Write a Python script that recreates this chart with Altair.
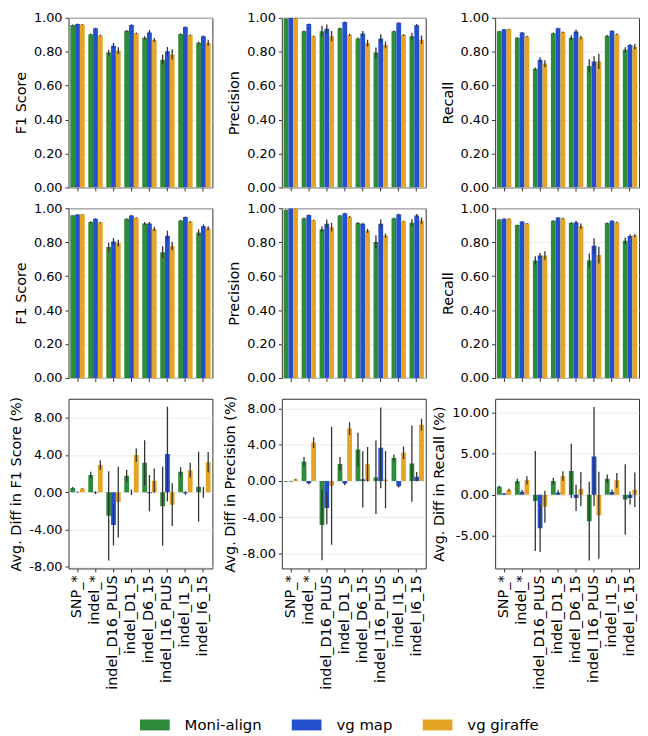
import altair as alt
import pandas as pd

CATEGORIES = ["SNP_*", "indel_*", "indel_D16_PLUS", "indel_D1_5",
              "indel_D6_15", "indel_I16_PLUS", "indel_I1_5", "indel_I6_15"]
METHODS = ["Moni-align", "vg map", "vg giraffe"]
COLORS = ["#2E8B3A", "#2450D0", "#E5A423"]

# ---- Row 1 ----
r1_f1_moni = [0.958, 0.903, 0.795, 0.923, 0.882, 0.753, 0.905, 0.853]
r1_f1_map = [0.963, 0.938, 0.836, 0.958, 0.913, 0.803, 0.946, 0.892]
r1_f1_gir = [0.961, 0.896, 0.807, 0.909, 0.869, 0.784, 0.898, 0.853]
r1_f1_moni_e = [0.003, 0.004, 0.015, 0.005, 0.010, 0.030, 0.004, 0.008]
r1_f1_map_e = [0.003, 0.003, 0.015, 0.004, 0.015, 0.025, 0.003, 0.004]
r1_f1_gir_e = [0.003, 0.004, 0.020, 0.005, 0.012, 0.030, 0.004, 0.018]

r1_pr_moni = [0.994, 0.921, 0.921, 0.938, 0.878, 0.795, 0.921, 0.892]
r1_pr_map = [0.999, 0.963, 0.936, 0.975, 0.907, 0.878, 0.971, 0.956]
r1_pr_gir = [0.998, 0.892, 0.892, 0.900, 0.851, 0.840, 0.898, 0.871]
r1_pr_moni_e = [0.002, 0.004, 0.030, 0.005, 0.006, 0.030, 0.004, 0.020]
r1_pr_map_e = [0.001, 0.003, 0.025, 0.003, 0.015, 0.025, 0.003, 0.008]
r1_pr_gir_e = [0.002, 0.004, 0.030, 0.006, 0.020, 0.020, 0.005, 0.025]

r1_re_moni = [0.921, 0.882, 0.699, 0.909, 0.882, 0.716, 0.894, 0.811]
r1_re_map = [0.932, 0.913, 0.753, 0.938, 0.919, 0.743, 0.923, 0.840]
r1_re_gir = [0.932, 0.890, 0.730, 0.915, 0.884, 0.743, 0.903, 0.830]
r1_re_moni_e = [0.003, 0.004, 0.008, 0.005, 0.015, 0.040, 0.004, 0.015]
r1_re_map_e = [0.002, 0.003, 0.015, 0.003, 0.012, 0.030, 0.003, 0.005]
r1_re_gir_e = [0.003, 0.004, 0.020, 0.004, 0.010, 0.045, 0.005, 0.015]

# ---- Row 2 ----
r2_f1_moni = [0.959, 0.919, 0.772, 0.938, 0.911, 0.741, 0.928, 0.857]
r2_f1_map = [0.963, 0.938, 0.805, 0.957, 0.911, 0.838, 0.948, 0.894]
r2_f1_gir = [0.965, 0.917, 0.795, 0.944, 0.878, 0.778, 0.921, 0.882]
r2_f1_moni_e = [0.002, 0.004, 0.025, 0.003, 0.008, 0.035, 0.003, 0.020]
r2_f1_map_e = [0.002, 0.003, 0.020, 0.003, 0.008, 0.030, 0.003, 0.010]
r2_f1_gir_e = [0.002, 0.003, 0.020, 0.003, 0.012, 0.025, 0.004, 0.012]

r2_pr_moni = [0.990, 0.942, 0.876, 0.957, 0.913, 0.801, 0.942, 0.915]
r2_pr_map = [0.999, 0.961, 0.909, 0.971, 0.909, 0.909, 0.965, 0.957]
r2_pr_gir = [0.999, 0.930, 0.888, 0.950, 0.868, 0.839, 0.923, 0.926]
r2_pr_moni_e = [0.002, 0.004, 0.018, 0.004, 0.006, 0.040, 0.004, 0.020]
r2_pr_map_e = [0.001, 0.003, 0.025, 0.003, 0.006, 0.025, 0.003, 0.010]
r2_pr_gir_e = [0.001, 0.003, 0.025, 0.004, 0.012, 0.012, 0.003, 0.020]

r2_re_moni = [0.934, 0.901, 0.693, 0.926, 0.913, 0.693, 0.913, 0.808]
r2_re_map = [0.938, 0.922, 0.722, 0.946, 0.918, 0.779, 0.926, 0.837]
r2_re_gir = [0.938, 0.911, 0.722, 0.940, 0.895, 0.724, 0.917, 0.839]
r2_re_moni_e = [0.003, 0.003, 0.025, 0.004, 0.006, 0.040, 0.004, 0.020]
r2_re_map_e = [0.003, 0.003, 0.015, 0.003, 0.008, 0.045, 0.003, 0.010]
r2_re_gir_e = [0.003, 0.003, 0.025, 0.004, 0.015, 0.050, 0.004, 0.010]

# ---- Row 3 (differences, %) ----
r3_f1_moni = [0.46, 1.84, -2.54, 1.77, 3.18, -1.52, 2.19, 0.60]
r3_f1_map = [0.02, -0.05, -3.53, 0.00, -0.10, 4.10, -0.10, 0.00]
r3_f1_gir = [0.39, 2.93, -1.06, 3.99, 1.24, -1.34, 2.37, 3.22]
r3_f1_moni_e = [0.10, 0.35, 4.80, 0.65, 2.40, 4.25, 0.50, 3.75]
r3_f1_map_e = [0.05, 0.15, 2.20, 0.30, 1.95, 5.10, 0.20, 0.60]
r3_f1_gir_e = [0.05, 0.50, 3.80, 0.70, 1.30, 2.30, 0.80, 1.10]

r3_pr_moni = [-0.07, 2.13, -4.86, 1.87, 3.46, 0.40, 2.52, 1.91]
r3_pr_map = [-0.04, -0.25, -2.99, -0.29, 0.18, 3.64, -0.58, 0.47]
r3_pr_gir = [0.18, 4.22, -0.54, 5.77, 1.84, 0.14, 3.10, 6.20]
r3_pr_moni_e = [0.05, 0.50, 3.90, 0.75, 1.85, 4.05, 0.40, 4.20]
r3_pr_map_e = [0.05, 0.15, 1.80, 0.20, 3.10, 4.45, 0.15, 0.50]
r3_pr_gir_e = [0.05, 0.60, 6.50, 0.70, 1.90, 3.15, 0.70, 0.65]

r3_re_moni = [0.96, 1.63, -0.76, 1.67, 2.90, -3.23, 1.95, -0.60]
r3_re_map = [0.16, 0.36, -4.10, 0.28, -0.40, 4.66, 0.32, -0.40]
r3_re_gir = [0.56, 1.75, -1.47, 2.27, 0.68, -2.51, 1.75, 0.60]
r3_re_moni_e = [0.12, 0.30, 6.10, 0.40, 3.30, 4.80, 0.50, 4.30]
r3_re_map_e = [0.05, 0.20, 2.90, 0.30, 1.60, 6.05, 0.30, 0.80]
r3_re_gir_e = [0.15, 0.50, 1.95, 0.60, 2.10, 5.30, 0.90, 2.10]

TOP_TICKS = [0.0, 0.2, 0.4, 0.6, 0.8, 1.0]
F1_DIFF_TICKS = [-8, -4, 0, 4, 8]
PR_DIFF_TICKS = [-8, -4, 0, 4, 8]
RE_DIFF_TICKS = [-5, 0, 5, 10]

W, H = 145, 171


def make_df(vals, errs):
    rows = []
    for m, v, e in zip(METHODS, vals, errs):
        for c, vv, ee in zip(CATEGORIES, v, e):
            rows.append({"category": c, "method": m, "value": vv,
                         "lo": vv - ee, "hi": vv + ee})
    return pd.DataFrame(rows)


legend = alt.Legend(
    orient="none", legendX=70, legendY=705, direction="horizontal",
    title=None, symbolType="M-1,-1H4.45V1H-1Z", symbolSize=121,
    symbolStrokeWidth=0, symbolOpacity=1, labelFontSize=15,
    labelFont="DejaVu Sans", labelColor="black", labelOffset=32,
    columnPadding=28, padding=0,
)


def panel(vals, errs, title, domain, ticks, show_labels):
    df = make_df(vals, errs)
    yscale = alt.Scale(domain=domain, nice=False, zero=False)
    yaxis = alt.Axis(title=title, values=ticks, format=".2f",
                     labelExpr="replace(datum.label, '\u2212', '-')")
    xaxis = alt.Axis(title=None, labels=show_labels, labelAngle=-90,
                     labelFontSize=14.5, ticks=True)
    base = alt.Chart(df).encode(
        x=alt.X("category:N", sort=CATEGORIES,
                scale=alt.Scale(paddingInner=0.2, paddingOuter=0.1),
                axis=xaxis),
        xOffset=alt.XOffset("method:N", sort=METHODS,
                            scale=alt.Scale(domain=METHODS, paddingInner=0,
                                            paddingOuter=0)),
    )
    bars = base.mark_bar(clip=True).encode(
        y=alt.Y("value:Q", scale=yscale, axis=yaxis),
        y2=alt.datum(0),
        color=alt.Color("method:N", sort=METHODS,
                        scale=alt.Scale(domain=METHODS, range=COLORS),
                        legend=legend),
    )
    errbars = base.mark_rule(clip=True, color="#333333", strokeWidth=1.3).encode(
        y=alt.Y("lo:Q", scale=yscale, axis=yaxis),
        y2="hi:Q",
    )
    return alt.layer(bars, errbars).properties(width=W, height=H)


panels = [
    panel([r1_f1_moni, r1_f1_map, r1_f1_gir], [r1_f1_moni_e, r1_f1_map_e, r1_f1_gir_e],
          "F1 Score", [0, 1], TOP_TICKS, False),
    panel([r1_pr_moni, r1_pr_map, r1_pr_gir], [r1_pr_moni_e, r1_pr_map_e, r1_pr_gir_e],
          "Precision", [0, 1], TOP_TICKS, False),
    panel([r1_re_moni, r1_re_map, r1_re_gir], [r1_re_moni_e, r1_re_map_e, r1_re_gir_e],
          "Recall", [0, 1], TOP_TICKS, False),
    panel([r2_f1_moni, r2_f1_map, r2_f1_gir], [r2_f1_moni_e, r2_f1_map_e, r2_f1_gir_e],
          "F1 Score", [0, 1], TOP_TICKS, False),
    panel([r2_pr_moni, r2_pr_map, r2_pr_gir], [r2_pr_moni_e, r2_pr_map_e, r2_pr_gir_e],
          "Precision", [0, 1], TOP_TICKS, False),
    panel([r2_re_moni, r2_re_map, r2_re_gir], [r2_re_moni_e, r2_re_map_e, r2_re_gir_e],
          "Recall", [0, 1], TOP_TICKS, False),
    panel([r3_f1_moni, r3_f1_map, r3_f1_gir], [r3_f1_moni_e, r3_f1_map_e, r3_f1_gir_e],
          "Avg. Diff in F1 Score (%)", [-8.2, 10.05], F1_DIFF_TICKS, True),
    panel([r3_pr_moni, r3_pr_map, r3_pr_gir], [r3_pr_moni_e, r3_pr_map_e, r3_pr_gir_e],
          "Avg. Diff in Precision (%)", [-9.65, 9.05], PR_DIFF_TICKS, True),
    panel([r3_re_moni, r3_re_map, r3_re_gir], [r3_re_moni_e, r3_re_map_e, r3_re_gir_e],
          "Avg. Diff in Recall (%)", [-9.0, 11.7], RE_DIFF_TICKS, True),
]

chart = alt.concat(
    *panels, columns=3, spacing={"row": 21, "column": 70}, bounds="flush"
).properties(
    padding=0
).configure_axis(
    labelFont="DejaVu Sans", titleFont="DejaVu Sans", labelFontSize=13,
    titleFontSize=14.5, titleFontWeight="normal", labelColor="black",
    titleColor="black", tickColor="#333333", tickSize=3.5, domain=False,
    labelPadding=3, titlePadding=5,
).configure_axisY(
    grid=True, gridColor="#e4e4e4", gridWidth=0.8,
).configure_axisX(
    grid=False,
).configure_view(
    stroke="#333333", strokeWidth=1,
)

chart.save("out.html", embed_options={"renderer": "svg", "actions": False})
